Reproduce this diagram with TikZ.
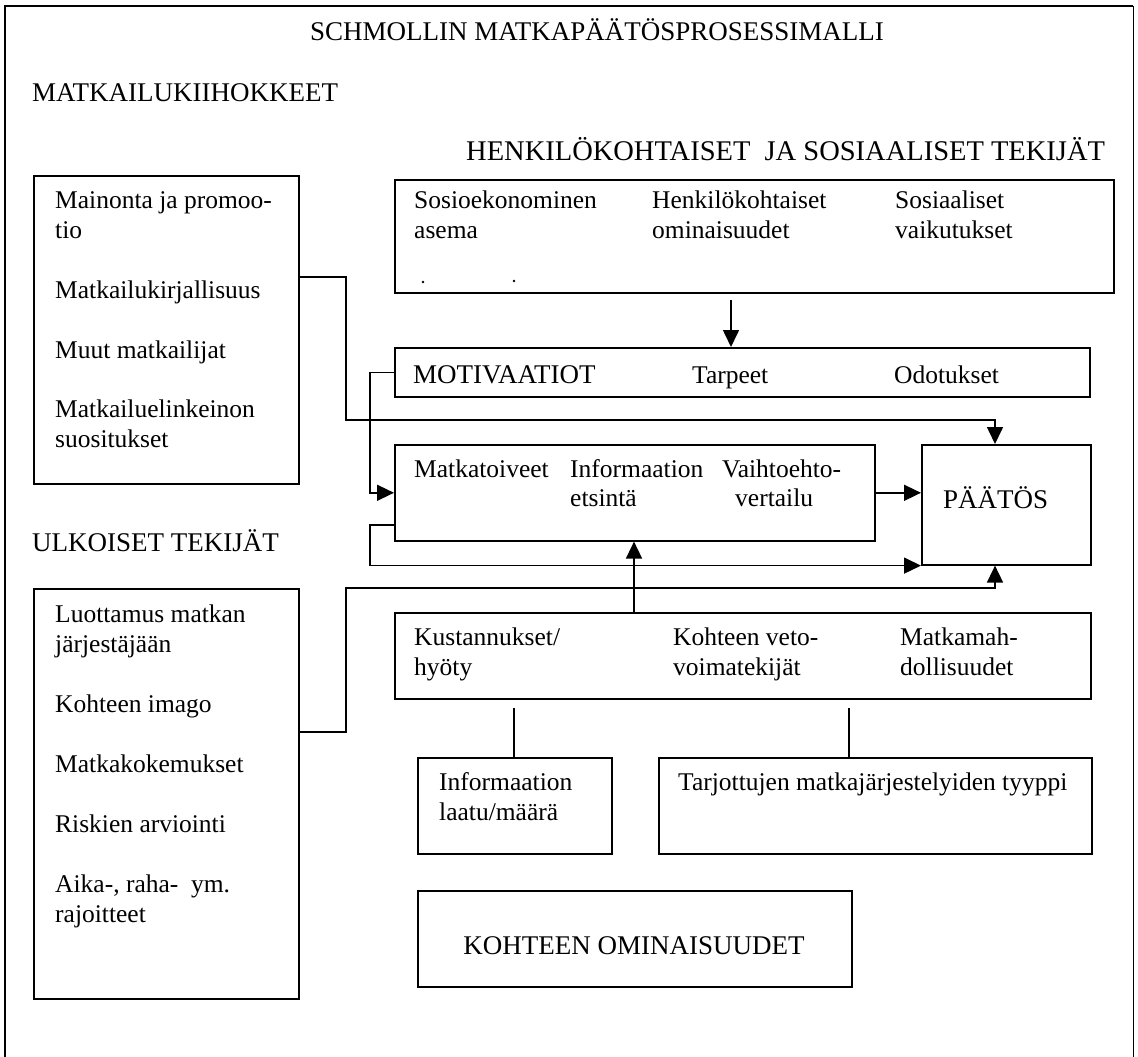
\documentclass[tikz,border=0pt]{standalone}
\usepackage{fontspec}
\setmainfont{Liberation Serif}
\usetikzlibrary{arrows.meta}

\tikzset{
  box/.style={draw, line width=1.6pt, inner sep=0pt, anchor=north west},
  txt/.style={anchor=base west, inner sep=0pt, font=\fontsize{25.5}{30}\selectfont},
  heading/.style={anchor=base west, inner sep=0pt, font=\fontsize{27}{30}\selectfont},
  link/.style={line width=1.6pt},
  arr/.style={line width=1.6pt, -{Triangle[length=17pt,width=16pt]}},
}

\begin{document}
\begin{tikzpicture}[x=1pt,y=-1pt]
\useasboundingbox (0,0) rectangle (1138,1057);

% page frame, open at the bottom
\draw[line width=2.4pt] (5,1060) -- (5,6);
\draw[line width=1.8pt] (4,6) -- (1133,6);
\draw[line width=1pt] (1133,6) -- (1133,1060);

% headings
\node[heading, anchor=base] (title) at (597,41) {SCHMOLLIN MATKAPÄÄTÖSPROSESSIMALLI};
\node[heading] (hkiih) at (32,101) {MATKAILUKIIHOKKEET};
\node[heading, font=\fontsize{28.5}{30}\selectfont] (hhenk) at (466,160) {HENKILÖKOHTAISET\ \ JA SOSIAALISET TEKIJÄT};
\node[heading] (hulk) at (32,551) {ULKOISET TEKIJÄT};

% boxes
\node[box, minimum width=265, minimum height=308] (kiih) at (33,175) {};
\node[box, minimum width=719, minimum height=113] (socio) at (394,179) {};
\node[box, minimum width=695, minimum height=49] (motiv) at (394,347) {};
\node[box, minimum width=480, minimum height=96] (matka) at (394,444) {};
\node[box, minimum width=169, minimum height=120] (paatos) at (921,444) {};
\node[box, minimum width=265, minimum height=410] (ulk) at (33,588) {};
\node[box, minimum width=696, minimum height=86] (kust) at (394,612) {};
\node[box, minimum width=194, minimum height=96] (info) at (417,757) {};
\node[box, minimum width=433, minimum height=96] (tarj) at (658,757) {};
\node[box, minimum width=434, minimum height=96] (koht) at (417,890) {};

% travel stimuli
\node[txt] (k1) at (55,208) {Mainonta ja promoo-};
\node[txt] (k1b) at (55,238) {tio};
\node[txt] (k2) at (55,298) {Matkailukirjallisuus};
\node[txt] (k3) at (55,358) {Muut matkailijat};
\node[txt] (k4) at (55,417) {Matkailuelinkeinon};
\node[txt] (k4b) at (55,447) {suositukset};

% external factors
\node[txt] (u1) at (55,622) {Luottamus matkan};
\node[txt] (u1b) at (55,652) {järjestäjään};
\node[txt] (u2) at (55,712) {Kohteen imago};
\node[txt] (u3) at (55,772) {Matkakokemukset};
\node[txt] (u4) at (55,832) {Riskien arviointi};
\node[txt] (u5) at (55,892) {Aika-, raha-\ \ ym.};
\node[txt] (u5b) at (55,922) {rajoitteet};

% personal and social factors
\node[txt] (s1) at (414,208) {Sosioekonominen};
\node[txt] (s1b) at (414,238) {asema};
\node[txt] (s2) at (652,208) {Henkilökohtaiset};
\node[txt] (s2b) at (652,238) {ominaisuudet};
\node[txt] (s3) at (895,208) {Sosiaaliset};
\node[txt] (s3b) at (895,238) {vaikutukset};
\fill (423,282) circle (1.3);
\fill (514,281) circle (1.3);

% motivations
\node[txt, font=\fontsize{27}{30}\selectfont] (m1) at (413,383) {MOTIVAATIOT};
\node[txt] (m2) at (692,383) {Tarpeet};
\node[txt] (m3) at (894,383) {Odotukset};

% decision process
\node[txt] (p1) at (414,477) {Matkatoiveet};
\node[txt] (p2) at (570,477) {Informaation};
\node[txt] (p2b) at (570,506) {etsintä};
\node[txt] (p3) at (722,477) {Vaihtoehto-};
\node[txt] (p3b) at (735,506) {vertailu};
\node[txt, font=\fontsize{27}{30}\selectfont] (dec) at (943,508) {PÄÄTÖS};

% destination factors
\node[txt] (c1) at (414,645) {Kustannukset/};
\node[txt] (c1b) at (414,675) {hyöty};
\node[txt] (c2) at (673,645) {Kohteen veto-};
\node[txt] (c2b) at (673,675) {voimatekijät};
\node[txt] (c3) at (900,645) {Matkamah-};
\node[txt] (c3b) at (900,675) {dollisuudet};
\node[txt] (i1) at (439,790) {Informaation};
\node[txt] (i1b) at (439,820) {laatu/määrä};
\node[txt] (t1) at (678,790) {Tarjottujen matkajärjestelyiden tyyppi};
\node[txt, anchor=base, font=\fontsize{27}{30}\selectfont] (o1) at (634,954) {KOHTEEN OMINAISUUDET};

% bend points of the connectors
\coordinate (kbend) at (346,277);
\coordinate (ktop) at (995,420);
\coordinate (sarr) at (731,300);
\coordinate (mx) at (370,0);
\coordinate (lb) at (370,525);
\coordinate (ubend) at (346,732);
\coordinate (utop) at (995,588);
\coordinate (kx) at (634,0);
\coordinate (istub) at (514,708);
\coordinate (tstub) at (849,708);

% connectors
\draw[arr] (kiih.east |- kbend) -- (kbend) |- (ktop) -- (ktop |- paatos.north);
\draw[arr] (sarr) -- (sarr |- motiv.north);
\draw[arr] (motiv.west) -- (motiv.west -| mx) |- (matka.west);
\draw[arr] (matka.east) -- (paatos.west |- matka.east);
\draw[arr] (matka.west |- lb) -- (lb) |- (paatos.south west);
\draw[arr] (ulk.east |- ubend) -- (ubend) |- (utop) -- (utop |- paatos.south);
\draw[arr] (kust.north -| kx) -- (matka.south -| kx);
\draw[link] (istub) -- (istub |- info.north);
\draw[link] (tstub) -- (tstub |- tarj.north);
\end{tikzpicture}
\end{document}
